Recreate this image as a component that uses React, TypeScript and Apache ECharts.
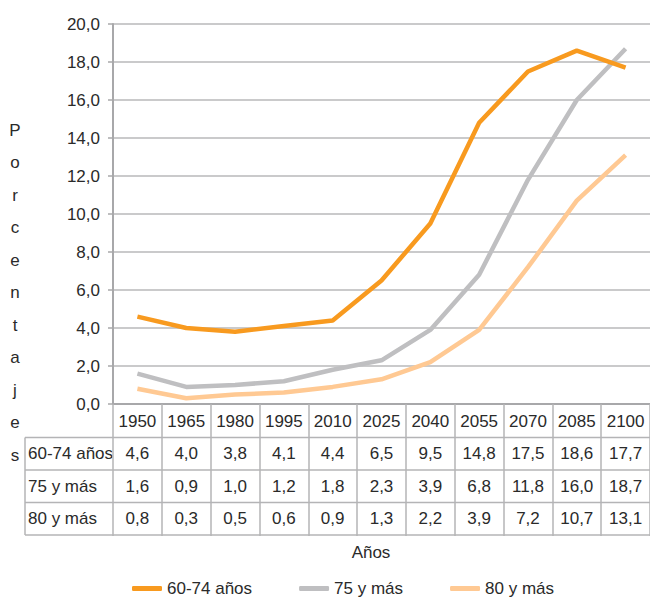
import React, { useEffect, useRef } from "react";
import * as echarts from "echarts";

const years = ["1950", "1965", "1980", "1995", "2010", "2025", "2040", "2055", "2070", "2085", "2100"];
const s6074 = [4.6, 4.0, 3.8, 4.1, 4.4, 6.5, 9.5, 14.8, 17.5, 18.6, 17.7];
const s75 = [1.6, 0.9, 1.0, 1.2, 1.8, 2.3, 3.9, 6.8, 11.8, 16.0, 18.7];
const s80 = [0.8, 0.3, 0.5, 0.6, 0.9, 1.3, 2.2, 3.9, 7.2, 10.7, 13.1];
const seriesNames = ["60-74 años", "75 y más", "80 y más"];
const yTicks = { min: 0, max: 20, interval: 2 };

const colors = ["#F89A1F", "#BFBFC1", "#FFC993"];
const FONT = "Liberation Sans, Arial, sans-serif";
const fmt = (v: number) => v.toFixed(1).replace(".", ",");

export default function App() {
  const ref = useRef<HTMLDivElement>(null);
  useEffect(() => {
    if (!ref.current) return;
    const chart = echarts.init(ref.current, null, { renderer: "svg" });
    const gridLeft = 113;
    const gridTop = 24;
    const gridW = 543;
    const gridH = 380;
    const rowH = 32.5;
    const tableTop = gridTop + gridH;
    const rowLines = [1, 2, 3, 4].map((i) => tableTop + 1 + i * rowH);
    const lineColor = "#B4B4B6";
    const graphics: any[] = [];
    rowLines.forEach((y) => {
      graphics.push({
        type: "line",
        shape: { x1: 25, y1: y, x2: 660, y2: y },
        style: { stroke: lineColor, lineWidth: 1.5 },
      });
    });
    graphics.push({
      type: "line",
      shape: { x1: 25, y1: rowLines[0], x2: 25, y2: rowLines[3] },
      style: { stroke: lineColor, lineWidth: 1.5 },
    });
    seriesNames.forEach((n, i) => {
      graphics.push({
        type: "text",
        x: 28,
        y: rowLines[i] + rowH / 2,
        style: { text: n, font: `17px ${FONT}`, fill: "#2a2a2a", textAlign: "left", textVerticalAlign: "middle" },
      });
    });
    graphics.push({
      type: "text",
      x: 15,
      y: 114,
      style: {
        text: "Porcentajes".split("").join("\n"),
        font: `17px ${FONT}`,
        lineHeight: 32.5,
        fill: "#2a2a2a",
        textAlign: "center",
        textVerticalAlign: "top",
      },
    });
    graphics.push({
      type: "text",
      x: 371,
      y: 552,
      style: { text: "Años", font: `17px ${FONT}`, fill: "#2a2a2a", textAlign: "center", textVerticalAlign: "middle" },
    });

    const data = [s6074, s75, s80];
    chart.setOption({
      animation: false,
      textStyle: { fontFamily: FONT },
      grid: { left: gridLeft, top: gridTop, width: gridW, height: gridH, containLabel: false },
      xAxis: {
        type: "category",
        data: years,
        boundaryGap: true,
        axisLine: { lineStyle: { color: "#A8A8AA", width: 2 } },
        axisTick: { show: true, length: 132, lineStyle: { color: lineColor, width: 1.5 } },
        axisLabel: {
          margin: 1,
          fontSize: 17,
          color: "#2a2a2a",
          lineHeight: rowH,
          interval: 0,
          formatter: (v: string, i: number) =>
            [v, fmt(s6074[i]), fmt(s75[i]), fmt(s80[i])].join("\n"),
        },
      },
      yAxis: {
        type: "value",
        min: yTicks.min,
        max: yTicks.max,
        interval: yTicks.interval,
        axisLine: { show: true, lineStyle: { color: "#A8A8AA", width: 2 } },
        axisTick: { show: true, length: 5, lineStyle: { color: "#A8A8AA", width: 1.5 } },
        splitLine: { lineStyle: { color: "#B8B8BA", width: 1.5 } },
        axisLabel: { margin: 13, fontSize: 17, color: "#2a2a2a", formatter: (v: number) => fmt(v) },
      },
      legend: {
        left: 132,
        top: 580,
        padding: 0,
        itemWidth: 30,
        itemHeight: 5,
        itemGap: 47,
        icon: "roundRect",
        textStyle: { fontSize: 17, color: "#2a2a2a", fontFamily: FONT },
        data: seriesNames,
      },
      graphic: graphics,
      series: seriesNames.map((n, i) => ({
        name: n,
        type: "line",
        data: data[i],
        showSymbol: false,
        symbol: "none",
        lineStyle: { color: colors[i], width: 4.5 },
        itemStyle: { color: colors[i] },
        z: 3 - i,
      })),
    });
    return () => chart.dispose();
  }, []);
  return (
    <div
      ref={ref}
      style={{ position: "absolute", left: 0, top: 0, width: 650, height: 600, background: "#fff" }}
    />
  );
}
